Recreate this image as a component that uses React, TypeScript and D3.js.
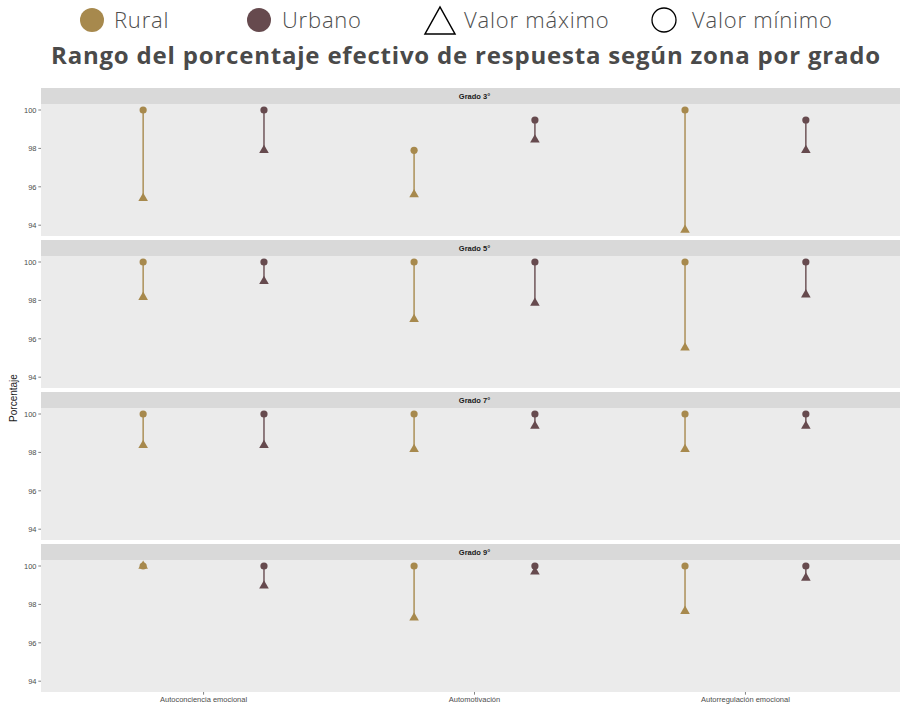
import React from "react";
import * as d3 from "d3";

const categorias = ["Autoconciencia emocional", "Automotivación", "Autorregulación emocional"];
const zonas = ["Rural", "Urbano"];
const grados = ["Grado 3°", "Grado 5°", "Grado 7°", "Grado 9°"];
const yTicks = [94, 96, 98, 100];

// Triangle marker values ("Valor máximo" in legend), per grado: [cat][zona]
const valorMaximo = [
  [[95.4, 97.9], [95.6, 98.45], [93.75, 97.9]],
  [[98.17, 99.0], [97.02, 97.86], [95.53, 98.3]],
  [[98.37, 98.37], [98.16, 99.37], [98.16, 99.37]],
  [[100, 98.97], [97.3, 99.7], [97.65, 99.38]],
];
// Circle marker values ("Valor mínimo" in legend)
const valorMinimo = [
  [[100, 100], [97.9, 99.48], [100, 99.48]],
  [[100, 100], [100, 100], [100, 100]],
  [[100, 100], [100, 100], [100, 100]],
  [[100, 100], [100, 100], [100, 100]],
];

const colores: Record<string, string> = { Rural: "#A7894D", Urbano: "#664A4E" };

export default function App() {
  const W = 900, H = 704;
  const left = 41, right = 908;
  const stripTop0 = 88, pitch = 152, stripH = 16, panelH = 132;

  const all = [...valorMaximo.flat(2), ...valorMinimo.flat(2)];
  const [mn, mx] = d3.extent(all) as [number, number];
  const pad = (mx - mn) * 0.05;

  const x = d3.scalePoint<string>().domain(categorias).range([left, right]).padding(0.6);
  const step = x.step();
  const dodge = d3.scalePoint<string>().domain(zonas).range([-0.223 * step, 0.223 * step]);

  const tri = d3.symbol().type(d3.symbolTriangle).size(40)();
  const font = "'Liberation Sans', Arial, sans-serif";

  return (
    <svg width={W} height={H} style={{ position: "absolute", left: 0, top: 0, background: "#fff" }}>
      <rect x={0} y={0} width={W} height={H} fill="#fff" />
      {/* Legend */}
      <g fontFamily="'Open Sans', sans-serif" fontWeight={300} fontSize={22} letterSpacing={0.8} fill="#4d4d4d">
        <circle cx={92} cy={20} r={12} fill={colores.Rural} />
        <text x={114} y={28}>Rural</text>
        <circle cx={259} cy={20} r={12} fill={colores.Urbano} />
        <text x={282} y={28}>Urbano</text>
        <path d="M425,34 L455,34 L440,7 Z" fill="none" stroke="#000" strokeWidth={1.5} />
        <text x={464} y={28}>Valor máximo</text>
        <circle cx={664} cy={20} r={12} fill="none" stroke="#000" strokeWidth={1.3} />
        <text x={692} y={28}>Valor mínimo</text>
      </g>
      <text x={466} y={64} textAnchor="middle" fontFamily="'Open Sans', sans-serif" fontWeight={700} fontSize={24} letterSpacing={0.8} fill="#4a4a4a">
        Rango del porcentaje efectivo de respuesta según zona por grado
      </text>

      {grados.map((g, gi) => {
        const sTop = stripTop0 + gi * pitch;
        const pTop = sTop + stripH;
        const pBot = pTop + panelH;
        const y = d3.scaleLinear().domain([mn - pad, mx + pad]).range([pBot, pTop]);
        return (
          <g key={g}>
            <rect x={left} y={sTop} width={right - left} height={stripH} fill="#D9D9D9" />
            <text x={(left + right) / 2} y={sTop + stripH / 2 + 2.5} textAnchor="middle" fontFamily={font} fontWeight={700} fontSize={7.5} fill="#1a1a1a">
              {g}
            </text>
            <rect x={left} y={pTop} width={right - left} height={panelH} fill="#EBEBEB" />
            {yTicks.map((t) => (
              <g key={t}>
                <line x1={left - 2.7} x2={left} y1={y(t)} y2={y(t)} stroke="#333" strokeWidth={0.6} />
                <text x={left - 4.5} y={y(t) + 2.7} textAnchor="end" fontFamily={font} fontSize={7.5} fill="#4d4d4d">
                  {t}
                </text>
              </g>
            ))}
            {categorias.map((c, ci) =>
              zonas.map((z, zi) => {
                const cx = (x(c) as number) + (dodge(z) as number);
                const vMax = valorMaximo[gi][ci][zi];
                const vMin = valorMinimo[gi][ci][zi];
                const col = colores[z];
                return (
                  <g key={c + z}>
                    <line x1={cx} x2={cx} y1={y(vMin)} y2={y(vMax)} stroke={col} strokeWidth={1.4} />
                    <circle cx={cx} cy={y(vMin)} r={3.6} fill={col} />
                    <path d={tri as string} transform={`translate(${cx},${y(vMax)})`} fill={col} />
                  </g>
                );
              })
            )}
          </g>
        );
      })}

      {/* X axis */}
      {categorias.map((c) => {
        const yb = stripTop0 + 3 * pitch + stripH + panelH;
        return (
          <g key={c}>
            <line x1={x(c)} x2={x(c)} y1={yb} y2={yb + 2.7} stroke="#333" strokeWidth={0.6} />
            <text x={x(c)} y={yb + 10} textAnchor="middle" fontFamily={font} fontSize={7.5} fill="#4d4d4d">
              {c}
            </text>
          </g>
        );
      })}
      <text transform="translate(17,398) rotate(-90)" textAnchor="middle" fontFamily={font} fontSize={10} fill="#1a1a1a">
        Porcentaje
      </text>
    </svg>
  );
}
